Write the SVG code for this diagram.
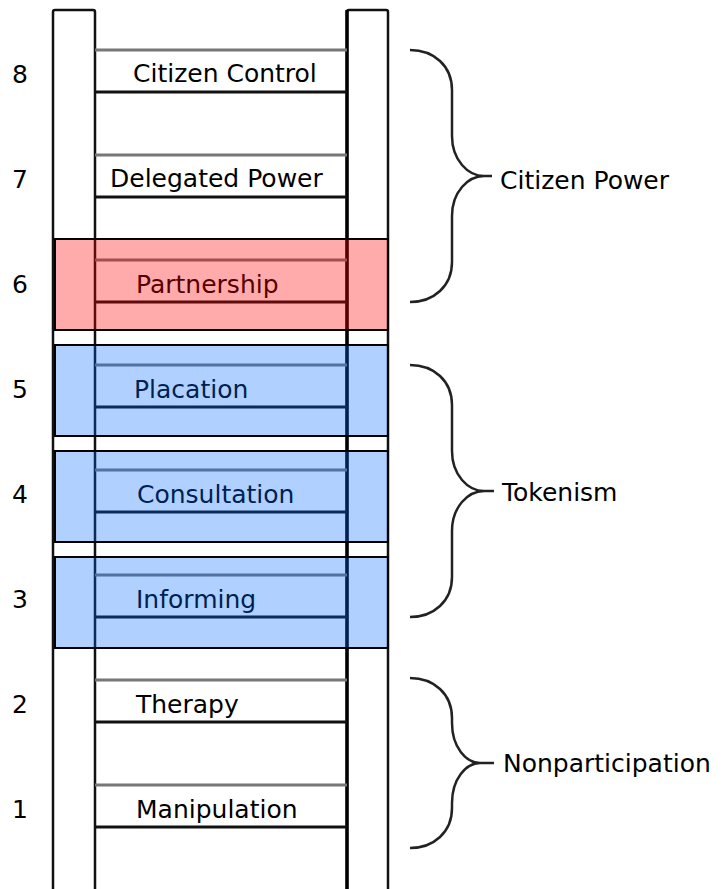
<svg xmlns="http://www.w3.org/2000/svg" width="725" height="889" viewBox="0 0 725 889">
<style>
text{font-family:"DejaVu Sans","Liberation Sans",sans-serif;font-size:25px;fill:#000}
.rail{fill:#fff;stroke:#111;stroke-width:2.5}
.top{stroke:#777;stroke-width:3}
.bot{stroke:#111;stroke-width:3}
.red{fill:#ff0000;fill-opacity:0.33;stroke:#000;stroke-width:2}
.blue{fill:#0066ff;fill-opacity:0.31;stroke:#000;stroke-width:2}
.brace{fill:none;stroke:#222;stroke-width:2.5}
</style>
<rect width="725" height="889" fill="#fff"/>
<g id="rails">
<rect class="rail" x="53" y="10" width="42" height="890" rx="2"/>
<rect class="rail" x="347" y="10" width="41" height="890" rx="2"/>
<line x1="347" y1="10" x2="347" y2="889" stroke="#000" stroke-width="3.5"/>
</g>
<g id="rung8"><line class="top" x1="95" y1="50" x2="347" y2="50"/><line class="bot" x1="95" y1="92" x2="347" y2="92"/><text x="133" y="82">Citizen Control</text><text x="12" y="83">8</text></g>
<g id="rung7"><line class="top" x1="95" y1="155" x2="347" y2="155"/><line class="bot" x1="95" y1="197" x2="347" y2="197"/><text x="110" y="187">Delegated Power</text><text x="12" y="188">7</text></g>
<g id="rung6"><line class="top" x1="95" y1="260" x2="347" y2="260"/><line class="bot" x1="95" y1="302" x2="347" y2="302"/><text x="136" y="293">Partnership</text><text x="12" y="293">6</text></g>
<g id="rung5"><line class="top" x1="95" y1="365" x2="347" y2="365"/><line class="bot" x1="95" y1="407" x2="347" y2="407"/><text x="134" y="398">Placation</text><text x="12" y="398">5</text></g>
<g id="rung4"><line class="top" x1="95" y1="470" x2="347" y2="470"/><line class="bot" x1="95" y1="512" x2="347" y2="512"/><text x="137" y="503">Consultation</text><text x="12" y="503">4</text></g>
<g id="rung3"><line class="top" x1="95" y1="575" x2="347" y2="575"/><line class="bot" x1="95" y1="617" x2="347" y2="617"/><text x="136" y="608">Informing</text><text x="12" y="608">3</text></g>
<g id="rung2"><line class="top" x1="95" y1="680" x2="347" y2="680"/><line class="bot" x1="95" y1="722" x2="347" y2="722"/><text x="136" y="713">Therapy</text><text x="12" y="713">2</text></g>
<g id="rung1"><line class="top" x1="95" y1="785" x2="347" y2="785"/><line class="bot" x1="95" y1="827" x2="347" y2="827"/><text x="136" y="818">Manipulation</text><text x="12" y="818">1</text></g>
<g id="highlights">
<rect class="red" x="55" y="239" width="333" height="91"/>
<rect class="blue" x="55" y="345" width="333" height="91"/>
<rect class="blue" x="55" y="451" width="333" height="91"/>
<rect class="blue" x="55" y="557" width="333" height="91"/>
</g>
<g id="connectors">
<path class="brace" d="M410,50 C434,50 452,66 452,90 V136 C452,160 468,176 484,176 H492 M484,176 C468,176 452,192 452,216 V262 C452,286 434,302 410,302"/>
<path class="brace" d="M410,365 C434,365 452,381 452,405 V451 C452,475 468,491 484,491 H494 M484,491 C468,491 452,507 452,531 V577 C452,601 434,617 410,617"/>
<path class="brace" d="M410,678 C434,678 452,694 452,718 V723 C452,747 466,763 480,763 H494 M480,763 C466,763 452,779 452,803 V808 C452,832 434,848 410,848"/>
</g>
<g id="group-citizen-power"><text x="500" y="189">Citizen Power</text></g>
<g id="group-tokenism"><text x="502" y="501">Tokenism</text></g>
<g id="group-nonparticipation"><text x="503" y="772">Nonparticipation</text></g>
</svg>
